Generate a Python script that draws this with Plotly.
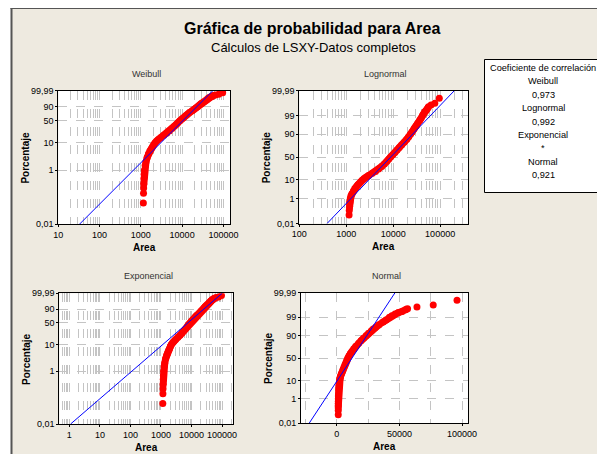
import math
from statistics import NormalDist

import plotly.graph_objects as go
from plotly.subplots import make_subplots

# percentiles (%) and Area values
band_pct = [0.3, 0.5, 0.7, 1, 1.5, 2, 3, 4, 5, 6, 7, 8.5, 10, 11.5, 13, 15, 18, 21,
            25, 30, 35, 40, 45, 50, 55, 60, 65, 70, 75, 80, 84, 87, 90, 92, 94, 95,
            96, 97, 98, 98.5, 99, 99.2, 99.4, 99.5, 99.6, 99.7, 99.75]
band_area = [1180, 1190, 1200, 1220, 1270, 1330, 1430, 1530, 1650, 1770, 1900, 2050,
             2200, 2400, 2650, 3000, 3600, 4200, 4900, 5700, 6500, 7300, 8000, 8800,
             9800, 10900, 12100, 13500, 15100, 17500, 19500, 21300, 23500, 25300,
             27600, 29000, 31000, 33500, 37000, 39300, 42000, 44000, 46500, 49000,
             52000, 55000, 56500]
tail_pct = [0.06, 0.14, 0.22, 99.82, 99.87, 99.95]
tail_area = [1150, 1160, 1170, 64000, 77000, 96000]

# fitted lines, ends at 0,01 % and 99,99 %
fit_pct = [0.01, 99.99]
fit_weibull = [33, 56000]
fit_lognormal = [390, 202000]
fit_exponencial = [1.1, 101000]
fit_normal = [-22100, 46500]

corr_names = ["Weibull", "Lognormal", "Exponencial", "Normal"]
corr_values = ["0,973", "0,992", "*", "0,921"]

ticks_weib = [0.01, 1, 10, 50, 90, 99.99]
ticks_norm = [0.01, 1, 10, 50, 90, 99, 99.99]

W, H = 605, 454
OFF = 8  # page body margin
FONT = "Liberation Sans"
BG = "#EEEAE0"
GRID = "#C4C4C4"


def weib(p):
    return math.log(-math.log(1 - p / 100))


def norm(p):
    return NormalDist().inv_cdf(p / 100)


def lab(p):
    return f"{p:g}".replace(".", ",")


def px(x):
    return (x - OFF) / W


def py(y):
    return 1 - (y - OFF) / H


def note(x, y, text, size, **kw):
    return dict(x=px(x), y=py(y), xref="paper", yref="paper", text=text,
                xanchor="center", yanchor="middle", showarrow=False,
                font={"size": size, "family": FONT, "color": kw.pop("color", "black")},
                **kw)


panels = [
    # name, row, col, y transform, ticks, fit, x type, x range, xticks, box(x0,x1,y0,y1)
    ("Weibull", 1, 1, weib, ticks_weib, fit_weibull, "log", [1, 5.16],
     [10, 100, 1000, 10000, 100000], (58.3, 230, 90.5, 224)),
    ("Lognormal", 1, 2, norm, ticks_norm, fit_lognormal, "log", [2, 5.6],
     [100, 1000, 10000, 100000], (299.3, 468.3, 90.5, 223.5)),
    ("Exponencial", 2, 1, weib, ticks_weib, fit_exponencial, "log", [-0.33, 5.37],
     [1, 10, 100, 1000, 10000, 100000], (59.3, 233.3, 293.3, 424)),
    ("Normal", 2, 2, norm, ticks_norm, fit_normal, "linear", [-28600, 105000],
     [0, 50000, 100000], (301, 468.3, 292.7, 423.3)),
]

fig = make_subplots(rows=2, cols=2)

annotations = []
for name, r, c, tf, ticks, fit, xtype, xr, xticks, box in panels:
    fig.add_trace(
        go.Scatter(x=band_area, y=[tf(p) for p in band_pct], mode="lines+markers",
                   line={"color": "#FF0000", "width": 7},
                   marker={"color": "#FF0000", "size": 7}, showlegend=False),
        row=r, col=c,
    )
    fig.add_trace(
        go.Scatter(x=tail_area, y=[tf(p) for p in tail_pct], mode="markers",
                   marker={"color": "#FF0000", "size": 7}, showlegend=False),
        row=r, col=c,
    )
    fig.add_trace(
        go.Scatter(x=fit, y=[tf(p) for p in fit_pct], mode="lines",
                   line={"color": "#0000FF", "width": 1}, showlegend=False),
        row=r, col=c,
    )
    x0, x1, y0, y1 = box
    xaxis = dict(
        domain=[px(x0), px(x1)], type=xtype, range=xr, tickvals=xticks,
        ticktext=[str(v) for v in xticks], showline=True, mirror=True,
        linecolor="black", linewidth=1, ticks="outside", ticklen=2,
        tickcolor="black", showgrid=True, gridcolor=GRID, griddash="dash",
        zeroline=False, automargin=False,
        tickfont={"size": 9, "family": FONT, "color": "black"},
    )
    if xtype == "log":
        xaxis["minor"] = dict(dtick="D1", showgrid=True, gridcolor=GRID,
                              griddash="dash", ticklen=0)
    else:
        xaxis["minor"] = dict(dtick=25000, showgrid=True, gridcolor=GRID,
                              griddash="dash", ticklen=0)
    yaxis = dict(
        domain=[py(y1), py(y0)], range=[tf(ticks[0]), tf(ticks[-1])],
        tickvals=[tf(p) for p in ticks], ticktext=[lab(p) for p in ticks],
        showline=True, mirror=True, linecolor="black", linewidth=1,
        ticks="outside", ticklen=2, tickcolor="black", showgrid=True,
        gridcolor=GRID, griddash="dash", zeroline=False, automargin=False,
        tickfont={"size": 9, "family": FONT, "color": "black"},
    )
    fig.update_xaxes(xaxis, row=r, col=c)
    fig.update_yaxes(yaxis, row=r, col=c)

    cx = (x0 + x1) / 2
    annotations.append(note(cx + 2, y0 - 17, name, 9, color="#333333"))
    annotations.append(note(cx, y1 + 23, "<b>Area</b>", 10))
    annotations.append(note(x0 - 33, (y0 + y1) / 2, "<b>Porcentaje</b>", 10,
                            textangle=-90))

annotations.append(note(312, 28, "<b>Gráfica de probabilidad para Area</b>", 16))
annotations.append(note(313, 47, "Cálculos de LSXY-Datos completos", 13))

legend_lines = ["Coeficiente de correlación"]
for n, v in zip(corr_names, corr_values):
    legend_lines += [n, v]
for i, t in enumerate(legend_lines):
    annotations.append(note(543, 68 + i * 13.4, t, 9.2))

shapes = [
    dict(type="rect", xref="paper", yref="paper", x0=-0.05, x1=px(11), y0=-0.05, y1=1.05,
         fillcolor="white", line={"width": 0}),
    dict(type="rect", xref="paper", yref="paper", x0=-0.05, x1=1.05, y0=py(7), y1=1.05,
         fillcolor="white", line={"width": 0}),
    dict(type="line", xref="paper", yref="paper", x0=px(11.5), x1=px(11.5),
         y0=-0.05, y1=py(7), line={"color": "#555555", "width": 2}),
    dict(type="line", xref="paper", yref="paper", x0=px(10.5), x1=1.05,
         y0=py(8), y1=py(8), line={"color": "#555555", "width": 2}),
    dict(type="rect", xref="paper", yref="paper", x0=px(484.5), x1=px(600.5),
         y0=py(192.5), y1=py(59.5), fillcolor="white", line={"color": "black", "width": 1}),
]

fig.update_layout(
    width=W, height=H, margin={"l": 0, "r": 0, "t": 0, "b": 0},
    paper_bgcolor=BG, plot_bgcolor="white", showlegend=False,
    annotations=annotations, shapes=shapes,
    font={"family": FONT, "color": "black"},
)

fig.write_html("out.html", config={"displayModeBar": False})
